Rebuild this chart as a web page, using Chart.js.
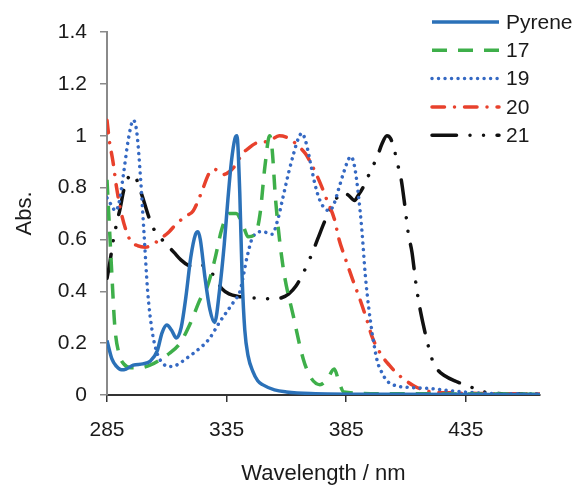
<!DOCTYPE html>
<html>
<head>
<meta charset="utf-8">
<script src="https://cdn.jsdelivr.net/npm/chart.js@4.4.0/dist/chart.umd.min.js"></script>
<style>
  body { margin: 0; background: #fff; }
  #wrap { width: 580px; height: 485px; }
</style>
</head>
<body>
<div id="wrap"><canvas id="absChart"></canvas></div>
<script>
// tick labels on the wavelength axis
const xTicks = [285, 335, 385, 435];

// Pyrene
const pyreneNm  = [285, 287, 289, 291, 293, 296, 300, 303, 306, 308, 310, 312, 314, 316, 318, 320, 322, 323, 324, 326, 328, 330, 332, 334, 335.5, 337, 338.5, 339.3, 340.5, 341.5, 342.6, 344, 346, 348, 350, 355, 360, 370, 400, 466];
const pyreneAbs = [0.21, 0.14, 0.11, 0.097, 0.1, 0.115, 0.12, 0.13, 0.17, 0.24, 0.27, 0.25, 0.22, 0.26, 0.38, 0.53, 0.62, 0.63, 0.6, 0.45, 0.33, 0.28, 0.4, 0.58, 0.75, 0.9, 0.99, 1.0, 0.78, 0.45, 0.25, 0.15, 0.09, 0.055, 0.04, 0.02, 0.012, 0.006, 0.003, 0.002];

// 17
const c17Nm  = [285, 286, 287, 288.3, 290, 292, 295, 299, 303, 307, 311, 315.5, 320, 324, 327, 330, 333, 336, 339, 342, 344, 347, 349, 351, 353, 354, 355.5, 358.5, 363, 367, 370, 374, 377, 380, 382, 384, 400, 466];
const c17Abs = [0.83, 0.65, 0.47, 0.26, 0.16, 0.12, 0.105, 0.105, 0.115, 0.135, 0.16, 0.2, 0.28, 0.37, 0.42, 0.52, 0.64, 0.7, 0.7, 0.65, 0.61, 0.62, 0.7, 0.88, 1.0, 0.95, 0.75, 0.5, 0.3, 0.14, 0.07, 0.04, 0.06, 0.1, 0.05, 0.012, 0.005, 0.003];

// 19
const c19Nm  = [285, 287, 288.5, 290, 292, 294, 296, 297.5, 299, 300.5, 302, 304, 306, 308, 311, 314, 318, 321, 325, 328, 332, 335, 338, 340.6, 342, 343.5, 346, 350, 354, 356.5, 358.5, 361, 363, 365, 366.5, 368, 369.5, 372, 374, 376, 378, 380, 382, 384, 386, 387, 388.5, 390, 391.5, 393, 394.5, 396, 398, 400, 402, 406, 410, 420, 430, 440, 466];
const c19Abs = [0.76, 0.73, 0.71, 0.74, 0.86, 0.99, 1.06, 1.01, 0.84, 0.62, 0.4, 0.24, 0.16, 0.125, 0.11, 0.115, 0.14, 0.16, 0.19, 0.22, 0.28, 0.32, 0.36, 0.4, 0.46, 0.53, 0.61, 0.63, 0.62, 0.68, 0.76, 0.86, 0.93, 0.99, 1.01, 0.98, 0.92, 0.81, 0.75, 0.72, 0.71, 0.74, 0.8, 0.86, 0.91, 0.92, 0.88, 0.78, 0.64, 0.46, 0.33, 0.23, 0.13, 0.085, 0.055, 0.035, 0.03, 0.025, 0.015, 0.008, 0.004];

// 20
const c20Nm  = [285, 286, 287.5, 289, 291, 294.5, 298, 301, 304, 307, 311, 314, 318, 321, 324, 328, 330, 333.5, 336, 339, 341.5, 344, 347, 350, 353, 357, 361, 365, 368, 371, 374, 377, 380, 382, 384.5, 387.5, 390.7, 393.6, 396, 400, 403, 406, 410, 413, 417, 421, 430, 440, 466];
const c20Abs = [1.06, 0.98, 0.9, 0.8, 0.7, 0.6, 0.575, 0.57, 0.58, 0.6, 0.63, 0.66, 0.69, 0.71, 0.77, 0.86, 0.87, 0.85, 0.86, 0.89, 0.93, 0.95, 0.97, 0.975, 0.98, 1.0, 0.99, 0.96, 0.93, 0.88, 0.82, 0.75, 0.68, 0.6, 0.53, 0.45, 0.37, 0.29, 0.22, 0.15, 0.115, 0.085, 0.055, 0.037, 0.02, 0.012, 0.008, 0.006, 0.004];

// 21
const c21Nm  = [285, 286, 287.5, 289, 290.5, 292, 294, 295.5, 297, 298.5, 300, 302, 304, 307, 310, 313, 316, 319, 322, 325, 327, 330, 333, 336, 340, 345, 350, 355, 358, 361, 364, 367, 370, 373, 376, 379, 382, 384, 386, 388.5, 390, 392, 394, 396, 398, 400, 402, 403.5, 405, 406.5, 408, 409.5, 411, 412.5, 414, 415.5, 417, 419, 421, 423, 426, 431, 436, 440, 443.5, 450, 466];
const c21Abs = [0.45, 0.5, 0.59, 0.66, 0.72, 0.79, 0.84, 0.85, 0.84, 0.8, 0.76, 0.7, 0.65, 0.61, 0.58, 0.55, 0.52, 0.5, 0.495, 0.5, 0.49, 0.455, 0.41, 0.39, 0.38, 0.375, 0.373, 0.37, 0.375, 0.39, 0.42, 0.47, 0.53, 0.6, 0.67, 0.73, 0.77, 0.78, 0.77, 0.75, 0.77, 0.8, 0.84, 0.88, 0.92, 0.97, 1.0, 0.99, 0.95, 0.89, 0.83, 0.73, 0.62, 0.55, 0.44, 0.35, 0.28, 0.2, 0.135, 0.1, 0.075, 0.052, 0.035, 0.02, 0.01, 0.005, 0.004];

const FONT = "'Liberation Sans', Arial, sans-serif";
const TEXT = "#1a1a1a";

function toPoints(nm, abs) {
    return nm.map((x, i) => ({ x: x, y: abs[i] }));
}

function line(label, nm, abs, color, dash, cap) {
    return {
        label: label,
        data: toPoints(nm, abs),
        borderColor: color,
        borderWidth: 3.5,
        borderDash: dash,
        borderCapStyle: cap,
        pointRadius: 0,
        fill: false,
        cubicInterpolationMode: "monotone"
    };
}

// legend drawn at the top right, over the plot
const sideLegend = {
    id: "sideLegend",
    afterDraw(chart) {
        const ctx = chart.ctx;
        chart.data.datasets.forEach((ds, i) => {
            const y = 22 + i * 28.3;
            ctx.save();
            ctx.strokeStyle = ds.borderColor;
            ctx.lineWidth = ds.borderWidth;
            ctx.lineCap = ds.borderCapStyle;
            ctx.setLineDash(ds.borderDash);
            ctx.beginPath();
            ctx.moveTo(432, y);
            ctx.lineTo(499, y);
            ctx.stroke();
            ctx.restore();
            ctx.save();
            ctx.fillStyle = TEXT;
            ctx.font = "21px " + FONT;
            ctx.textBaseline = "middle";
            ctx.fillText(ds.label, 506, y + 1);
            ctx.restore();
        });
    }
};

const ctx = document.getElementById("absChart").getContext("2d");

new Chart(ctx, {
    type: "line",
    data: {
        datasets: [
            line("Pyrene", pyreneNm, pyreneAbs, "#2b71b8", [], "butt"),
            line("17", c17Nm, c17Abs, "#3eaf4a", [15, 11], "butt"),
            line("19", c19Nm, c19Abs, "#3569c3", [0.01, 6.5], "round"),
            line("20", c20Nm, c20Abs, "#e8412c", [12.5, 10, 0.01, 10], "round"),
            line("21", c21Nm, c21Abs, "#111111", [24.5, 13.5, 0.01, 13.5, 0.01, 13.5], "round")
        ]
    },
    options: {
        responsive: true,
        maintainAspectRatio: false,
        animation: false,
        layout: { padding: { top: 32, right: 40, bottom: 0, left: 0 } },
        plugins: {
            legend: { display: false },
            tooltip: { enabled: false }
        },
        scales: {
            x: {
                type: "linear",
                min: 285,
                max: 466,
                afterBuildTicks: s => { s.ticks = xTicks.map(v => ({ value: v })); },
                afterFit: s => { s.height = 90; },
                grid: { drawOnChartArea: false, drawTicks: true, tickLength: 7, color: "#333", lineWidth: 1.5 },
                border: { display: true, color: "#333", width: 2 },
                ticks: { padding: 16, color: TEXT, font: { family: FONT, size: 21 }, maxRotation: 0, autoSkip: false },
                title: {
                    display: true,
                    text: "Wavelength / nm",
                    color: TEXT,
                    font: { family: FONT, size: 22, lineHeight: 1 },
                    padding: { top: 0, bottom: 0 }
                }
            },
            y: {
                min: 0,
                max: 1.4,
                afterFit: s => { s.width = 107; },
                grid: { drawOnChartArea: false, drawTicks: true, tickLength: 7, color: "#8a8a8a", lineWidth: 1.5 },
                border: { display: true, color: "#8a8a8a", width: 2 },
                ticks: {
                    stepSize: 0.2,
                    padding: 13,
                    color: TEXT,
                    font: { family: FONT, size: 21 },
                    callback: v => String(Number(v.toFixed(1)))
                },
                title: {
                    display: true,
                    text: "Abs.",
                    color: TEXT,
                    font: { family: FONT, size: 22 },
                    padding: { top: 12, bottom: 0 }
                }
            }
        }
    },
    plugins: [sideLegend]
});
</script>
</body>
</html>
